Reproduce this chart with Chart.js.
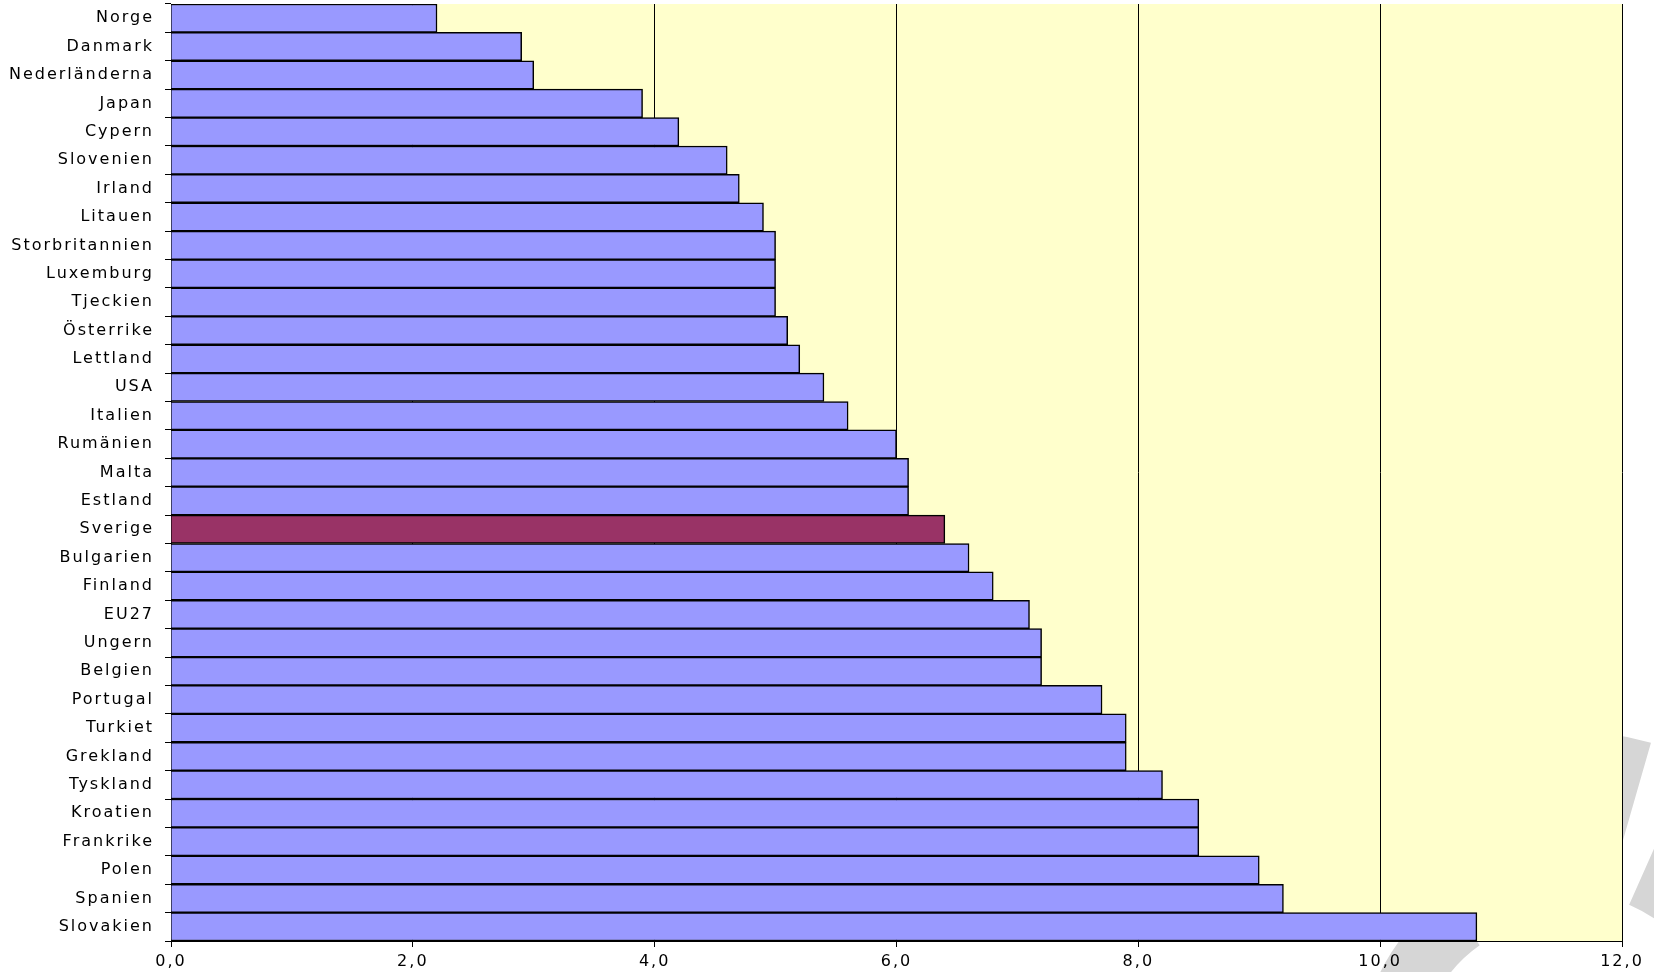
<!DOCTYPE html>
<html>
<head>
<meta charset="utf-8">
<script src="https://cdn.jsdelivr.net/npm/chart.js@4"></script>
<style>
  html, body { margin: 0; padding: 0; background: #ffffff; }
  #wrap { width: 1654px; height: 972px; position: relative; }
</style>
</head>
<body>
<div id="wrap"><canvas id="chart1"></canvas></div>
<script>
const countries = ['Norge', 'Danmark', 'Nederländerna', 'Japan', 'Cypern', 'Slovenien', 'Irland',
    'Litauen', 'Storbritannien', 'Luxemburg', 'Tjeckien', 'Österrike', 'Lettland', 'USA', 'Italien',
    'Rumänien', 'Malta', 'Estland', 'Sverige', 'Bulgarien', 'Finland', 'EU27', 'Ungern', 'Belgien',
    'Portugal', 'Turkiet', 'Grekland', 'Tyskland', 'Kroatien', 'Frankrike', 'Polen', 'Spanien', 'Slovakien'];
const values = [2.2, 2.9, 3.0, 3.9, 4.2, 4.6, 4.7,
    4.9, 5.0, 5.0, 5.0, 5.1, 5.2, 5.4, 5.6,
    6.0, 6.1, 6.1, 6.4, 6.6, 6.8, 7.1, 7.2, 7.2,
    7.7, 7.9, 7.9, 8.2, 8.5, 8.5, 9.0, 9.2, 10.8];
const highlighted = ['Sverige'];
const xMin = 0;
const xMax = 12;
const xStep = 2;

let barColors = countries.map(c => highlighted.includes(c) ? '#993366' : '#9999FF');

// grey logo behind the chart, then the yellow plot area; wider lettering like the original
const plotBg = {
    id: 'plotBg',
    beforeLayout(chart) { chart.ctx.letterSpacing = '2px'; },
    beforeDraw(chart) {
        const { ctx, chartArea } = chart;
        ctx.letterSpacing = '2px';
        ctx.save();
        ctx.strokeStyle = '#D6D6D6';
        // [radius, width, startDeg, endDeg]
        [[170, 60, -170, -125], [250, 160, -100, -74], [250, 160, -66, -30]].forEach(seg => {
            ctx.lineWidth = seg[1];
            ctx.beginPath();
            ctx.arc(1560, 1060, seg[0], seg[2] * Math.PI / 180, seg[3] * Math.PI / 180);
            ctx.stroke();
        });
        ctx.fillStyle = '#FFFFCC';
        ctx.fillRect(chartArea.left, chartArea.top, chartArea.right - chartArea.left, chartArea.bottom - chartArea.top);
        ctx.restore();
    }
};

let ctx = document.getElementById('chart1').getContext('2d');

new Chart(ctx, {
    type: 'bar',
    data: {
        labels: countries,
        datasets: [{
            data: values,
            backgroundColor: barColors,
            borderColor: '#000000',
            borderWidth: 1.5,
            barPercentage: 1,
            categoryPercentage: 1
        }]
    },
    options: {
        indexAxis: 'y',
        responsive: true,
        maintainAspectRatio: false,
        animation: false,
        layout: { padding: { top: 4, right: 32, left: 0, bottom: 0 } },
        plugins: {
            legend: { display: false },
            tooltip: { enabled: false }
        },
        scales: {
            x: {
                min: xMin,
                max: xMax,
                ticks: {
                    stepSize: xStep,
                    color: '#000000',
                    padding: 5,
                    font: { family: 'DejaVu Sans', size: 16 },
                    callback: v => v.toFixed(1).replace('.', ',')
                },
                grid: { color: '#000000', lineWidth: 1, tickLength: 6 },
                border: { color: '#000000', width: 1 },
                afterFit: scale => { scale.height = 31; }
            },
            y: {
                ticks: {
                    color: '#000000',
                    padding: 11,
                    autoSkip: false,
                    font: { family: 'DejaVu Sans', size: 16 }
                },
                grid: { display: true, drawOnChartArea: false, color: '#000000', tickLength: 6 },
                border: { color: '#000000', width: 1 },
                afterFit: scale => {
                    scale.width = 171;
                    scale.paddingTop = 0;
                    scale.paddingBottom = 0;
                }
            }
        }
    },
    plugins: [plotBg]
});
</script>
</body>
</html>
